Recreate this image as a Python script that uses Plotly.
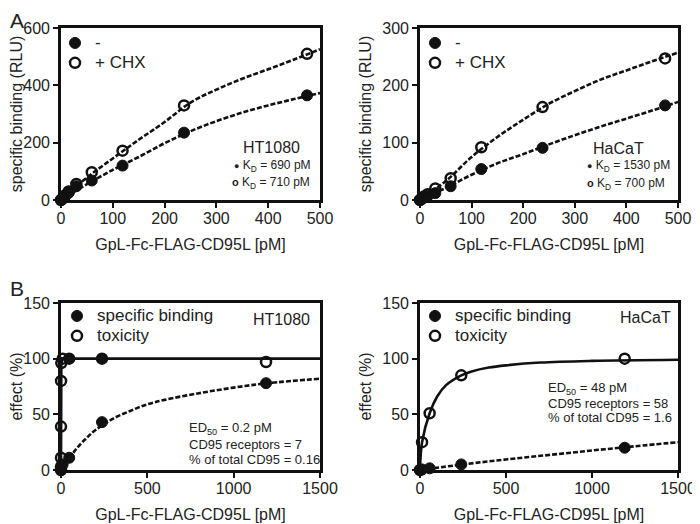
import plotly.graph_objects as go

FONT = "Liberation Sans, Arial, sans-serif"
INK = "#111111"
# the page body keeps its 8px margin, so the figure is drawn 8px in from the window corner
OX, OY = 8, 8
W, H = 700 - OX, 524 - OY

# ---- panel A: binding titration (RLU) ----
A_CONC = [0, 3.7, 7.4, 14.8, 29.7, 59.4, 118.8, 237.5, 475]
HT_BIND = [0, 5, 12, 25, 48, 68, 120, 235, 365]
HT_BIND_CHX = [0, 6, 16, 30, 56, 97, 172, 330, 510]
HACAT_BIND = [0, 2, 4, 7, 12, 24, 54, 91, 165]
HACAT_BIND_CHX = [0, 3, 6, 10, 20, 38, 92, 162, 247]

# fitted curves
A_FIT_X = [0, 50, 100, 150, 200, 250, 300, 350, 400, 450, 500]
HT_FIT = [0, 55, 105, 150, 198, 240, 275, 305, 330, 352, 373]
HT_FIT_CHX = [0, 78, 145, 210, 272, 340, 385, 423, 456, 490, 526]
HACAT_FIT = [0, 21, 44, 64, 80, 97, 113, 128, 142, 156, 171]
HACAT_FIT_CHX = [0, 33, 75, 110, 140, 168, 190, 210, 226, 242, 257]

# ---- panel B: binding vs toxicity (%) ----
HT_TOX_CONC = [0, 0.003, 0.015, 0.076, 0.38, 1.9, 9.5, 47.5, 237.5, 1187.5]
HT_TOX = [0, 3, 11, 39, 80, 96, 100, 100, 100, 97]
HT_TOX_SYMBOL = ["circle-open"] * 7 + ["circle", "circle", "circle-open"]
HT_SPEC_CONC = [0, 9.5, 47.5, 237.5, 1187.5]
HT_SPEC = [0, 5, 11, 43, 78]

HT_TOX_FIT_X = [0, 0.003, 0.015, 0.076, 0.38, 1.9, 9.5, 1500]
HT_TOX_FIT = [0, 3, 11, 39, 80, 96, 100, 100]
B_SPEC_FIT_X = [0, 50, 100, 150, 200, 300, 400, 500, 600, 800, 1000, 1200, 1500]
HT_SPEC_FIT = [0, 11, 21, 29, 36, 46, 53, 59, 63, 69, 74, 78, 82]

HACAT_TOX_CONC = [0, 12, 56, 240, 1190]
HACAT_TOX = [0, 25, 51, 85, 100]
HACAT_SPEC_CONC = [0, 12, 56, 240, 1190]
HACAT_SPEC = [0, 0.5, 1.5, 5, 20]

HACAT_TOX_FIT_X = [0, 12, 56, 100, 150, 240, 300, 400, 500, 700, 1000, 1500]
HACAT_TOX_FIT = [0, 25, 51, 66, 76, 85, 88.5, 92, 94, 96.5, 98, 99]
HACAT_SPEC_FIT_X = [0, 250, 500, 750, 1000, 1250, 1500]
HACAT_SPEC_FIT = [0, 5, 9.5, 13.5, 17.5, 21.3, 25]


# positions below are window pixels, converted to paper fractions
def px(x):
    return (x - OX) / W


def py(y):
    return 1 - (y - OY) / H


def filled(x, y, name, xa, ya, legend):
    return go.Scatter(x=x, y=y, mode="markers", name=name, xaxis=xa, yaxis=ya,
                      legend=legend, cliponaxis=False,
                      marker=dict(symbol="circle", size=11, color=INK,
                                  line=dict(color=INK, width=1)))


def hollow(x, y, name, xa, ya, legend, symbol="circle-open"):
    return go.Scatter(x=x, y=y, mode="markers", name=name, xaxis=xa, yaxis=ya,
                      legend=legend, cliponaxis=False,
                      marker=dict(symbol=symbol, size=10, color=INK,
                                  line=dict(color=INK, width=2.5)))


def curve(x, y, xa, ya, dash="5px,2px", shape="spline"):
    return go.Scatter(x=x, y=y, mode="lines", xaxis=xa, yaxis=ya, showlegend=False,
                      hoverinfo="skip", cliponaxis=False,
                      line=dict(color=INK, width=2.6, dash=dash, shape=shape))


def big(name):
    # legend font stays small so rows sit close; the label itself is drawn larger
    return f"<span style='font-size:17px'>{name}</span>"


fig = go.Figure()

# A left
fig.add_trace(curve(A_FIT_X, HT_FIT, "x", "y"))
fig.add_trace(curve(A_FIT_X, HT_FIT_CHX, "x", "y"))
fig.add_trace(filled(A_CONC, HT_BIND, big("-"), "x", "y", "legend"))
fig.add_trace(hollow(A_CONC, HT_BIND_CHX, big("+ CHX"), "x", "y", "legend"))
# A right
fig.add_trace(curve(A_FIT_X, HACAT_FIT, "x2", "y2"))
fig.add_trace(curve(A_FIT_X, HACAT_FIT_CHX, "x2", "y2"))
fig.add_trace(filled(A_CONC, HACAT_BIND, big("-"), "x2", "y2", "legend2"))
fig.add_trace(hollow(A_CONC, HACAT_BIND_CHX, big("+ CHX"), "x2", "y2", "legend2"))
# B left
fig.add_trace(curve(HT_TOX_FIT_X, HT_TOX_FIT, "x3", "y3", dash="solid", shape="linear"))
fig.add_trace(curve(B_SPEC_FIT_X, HT_SPEC_FIT, "x3", "y3"))
fig.add_trace(filled(HT_SPEC_CONC, HT_SPEC, big("specific binding"), "x3", "y3", "legend3"))
fig.add_trace(hollow(HT_TOX_CONC, HT_TOX, big("toxicity"), "x3", "y3", "legend3",
                     symbol=HT_TOX_SYMBOL))
# B right
fig.add_trace(curve(HACAT_TOX_FIT_X, HACAT_TOX_FIT, "x4", "y4", dash="solid"))
fig.add_trace(curve(HACAT_SPEC_FIT_X, HACAT_SPEC_FIT, "x4", "y4"))
fig.add_trace(filled(HACAT_SPEC_CONC, HACAT_SPEC, big("specific binding"), "x4", "y4", "legend4"))
fig.add_trace(hollow(HACAT_TOX_CONC, HACAT_TOX, big("toxicity"), "x4", "y4", "legend4"))


def axis(domain, rng, dtick, anchor, title, standoff, label_shift=0):
    return dict(domain=domain, range=rng, dtick=dtick, anchor=anchor,
                showline=True, mirror=True, linecolor=INK, linewidth=2.6,
                ticks="outside", ticklen=5, tickwidth=2, tickcolor=INK,
                ticklabelstandoff=label_shift,
                showgrid=False, zeroline=False, fixedrange=True, automargin=False,
                tickfont=dict(family=FONT, size=16, color="#222"),
                title=dict(text=title, standoff=standoff,
                           font=dict(family=FONT, size=16, color="#222")))


XL = [px(61), px(320)]
XR = [px(420), px(678)]
YT = [py(200), py(28)]
YB = [py(470), py(303)]
XTITLE = "GpL-Fc-FLAG-CD95L [pM]"

fig.update_layout(
    xaxis=axis(XL, [0, 500], 100, "y", XTITLE, 13, -3),
    yaxis=axis(YT, [0, 600], 200, "x", "specific binding (RLU)", 3),
    xaxis2=axis(XR, [0, 500], 100, "y2", XTITLE, 13, -3),
    yaxis2=axis(YT, [0, 300], 100, "x2", "specific binding (RLU)", 7),
    xaxis3=axis(XL, [0, 1500], 500, "y3", XTITLE, 13, -3),
    yaxis3=axis(YB, [0, 150], 50, "x3", "effect (%)", 3),
    xaxis4=axis(XR, [0, 1500], 500, "y4", XTITLE, 13, -3),
    yaxis4=axis(YB, [0, 150], 50, "x4", "effect (%)", 7),
)

legend_style = dict(font=dict(family=FONT, size=13, color="#222"),
                    bgcolor="rgba(0,0,0,0)", xanchor="left", yanchor="top",
                    tracegroupgap=0, itemwidth=30)
fig.update_layout(
    legend=dict(x=px(55), y=py(28), **legend_style),
    legend2=dict(x=px(415), y=py(28), **legend_style),
    legend3=dict(x=px(57), y=py(301), **legend_style),
    legend4=dict(x=px(415), y=py(301), **legend_style),
)


def note(text, x, y, size=12, anchor="left"):
    fig.add_annotation(text=text, x=px(x), y=py(y), xref="paper", yref="paper",
                       xanchor=anchor, yanchor="middle", showarrow=False,
                       font=dict(family=FONT, size=size, color="#222"))


DOT = "<span style='font-size:9px'>●</span>"
RING = "<span style='font-size:11px'><b>o</b></span>"

note("A", OX, 20, size=21)
note("B", OX, 288, size=21)

note("HT1080", 271, 147, size=16, anchor="center")
note(f"{DOT} K<sub>D</sub> = 690 pM", 232, 166)
note(f"{RING} K<sub>D</sub> = 710 pM", 230, 183)

note("HaCaT", 618, 148, size=16, anchor="center")
note(f"{DOT} K<sub>D</sub> = 1530 pM", 585, 166)
note(f"{RING} K<sub>D</sub> = 700 pM", 585, 184)

note("HT1080", 281, 319, size=16, anchor="center")
note("ED<sub>50</sub> = 0.2 pM", 187, 428, size=13)
note("CD95 receptors = 7", 187, 444, size=13)
note("% of total CD95 = 0.16", 187, 459, size=13)

note("HaCaT", 645, 317, size=16, anchor="center")
note("ED<sub>50</sub> = 48 pM", 546, 388, size=13)
note("CD95 receptors = 58", 546, 403, size=13)
note("% of total CD95 = 1.6", 546, 417, size=13)

fig.update_layout(width=W, height=H, margin=dict(l=0, r=0, t=0, b=0),
                  paper_bgcolor="white", plot_bgcolor="white",
                  font=dict(family=FONT, color="#222"))

fig.write_html("out.html")
